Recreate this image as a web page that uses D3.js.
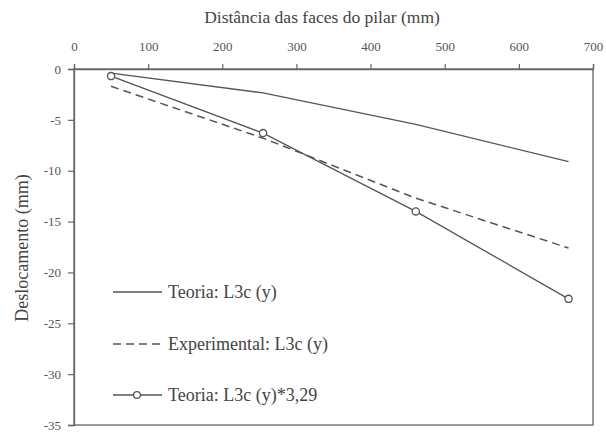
<!DOCTYPE html>
<html><head><meta charset="utf-8">
<script src="https://cdn.jsdelivr.net/npm/d3@7"></script>
<style>body{margin:0;background:#fff}svg{display:block}</style>
</head><body><svg id="c" width="606" height="443"></svg>
<script>
const xTicks = [0,100,200,300,400,500,600,700];
const yTicks = [0,-5,-10,-15,-20,-25,-30,-35];
const distance = [50,255,461,667];
const teoria = [-0.4,-2.35,-5.45,-9.1];
const experimental = [-1.7,-6.8,-12.7,-17.6];
const teoriaScaled = [-0.7,-6.3,-14.0,-22.6];
const legendLabels = ["Teoria: L3c (y)","Experimental: L3c (y)","Teoria: L3c (y)*3,29"];
const titleText = "Distância das faces do pilar (mm)";
const yLabel = "Deslocamento (mm)";

const FONT = "'Liberation Serif', 'Times New Roman', Times, serif";
const svg = d3.select("#c");
const L=74,R=593,T=69,B=425;
const x = d3.scaleLinear().domain([0,700]).range([L,R]);
const y = d3.scaleLinear().domain([0,-35]).range([T,B]);
const stroke="#555";

svg.append("rect").attr("x",L).attr("y",T).attr("width",R-L).attr("height",B-T)
  .attr("fill","none").attr("stroke","#666").attr("stroke-width",1.3);

const xa = svg.append("g").attr("transform",`translate(0,${T})`)
  .call(d3.axisTop(x).tickValues(xTicks).tickSize(5).tickPadding(13).tickFormat(d3.format("d")));
const ya = svg.append("g").attr("transform",`translate(${L},0)`)
  .call(d3.axisLeft(y).tickValues(yTicks).tickSize(6).tickPadding(7).tickFormat(d=>String(d)));
[xa,ya].forEach(g=>{
  g.attr("font-family",FONT).attr("font-size",13);
  g.select(".domain").attr("stroke","#666").attr("stroke-width",1.3);
  g.selectAll(".tick line").attr("stroke","#666").attr("stroke-width",1.2);
  g.selectAll(".tick text").attr("fill","#555").attr("font-family",FONT).attr("font-size",13);
});

svg.append("text").attr("x",322).attr("y",23).attr("text-anchor","middle")
  .attr("font-family",FONT).attr("font-size",17.5).attr("fill","#444").text(titleText);
svg.append("text").attr("transform","translate(28,248) rotate(-90)").attr("text-anchor","middle")
  .attr("font-family",FONT).attr("font-size",18).attr("fill","#444").text(yLabel);

const line = d3.line().x((d,i)=>x(distance[i])).y(d=>y(d));
svg.append("path").datum(teoria).attr("d",line).attr("fill","none").attr("stroke",stroke).attr("stroke-width",1.3);
svg.append("path").datum(experimental).attr("d",line).attr("fill","none").attr("stroke",stroke).attr("stroke-width",1.5).attr("stroke-dasharray","8,5");
svg.append("path").datum(teoriaScaled).attr("d",line).attr("fill","none").attr("stroke",stroke).attr("stroke-width",1.3);
svg.selectAll("circle.pt").data(teoriaScaled).enter().append("circle").attr("class","pt")
  .attr("cx",(d,i)=>x(distance[i])).attr("cy",d=>y(d)).attr("r",3.6)
  .attr("fill","#fff").attr("stroke",stroke).attr("stroke-width",1.3);

const ly=[292,344,395];
const lg = svg.append("g");
lg.append("line").attr("x1",113).attr("x2",162).attr("y1",ly[0]).attr("y2",ly[0]).attr("stroke",stroke).attr("stroke-width",1.3);
lg.append("line").attr("x1",113).attr("x2",162).attr("y1",ly[1]).attr("y2",ly[1]).attr("stroke",stroke).attr("stroke-width",1.3).attr("stroke-dasharray","8,5");
lg.append("line").attr("x1",113).attr("x2",162).attr("y1",ly[2]).attr("y2",ly[2]).attr("stroke",stroke).attr("stroke-width",1.3);
lg.append("circle").attr("cx",137).attr("cy",ly[2]).attr("r",3.4).attr("fill","#fff").attr("stroke",stroke).attr("stroke-width",1.3);
legendLabels.forEach((t,i)=>{
  lg.append("text").attr("x",168).attr("y",ly[i]+6).attr("font-family",FONT).attr("font-size",18).attr("fill","#444").text(t);
});
</script></body></html>
